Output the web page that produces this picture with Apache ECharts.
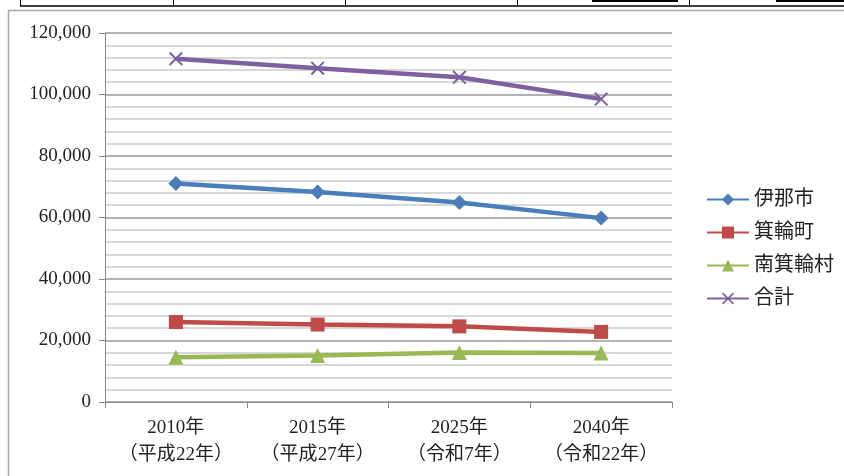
<!DOCTYPE html>
<html>
<head>
<meta charset="utf-8">
<script src="https://cdn.jsdelivr.net/npm/echarts@6/dist/echarts.min.js"></script>
<style>
  html, body { margin: 0; padding: 0; background: #fff; }
  #chart { width: 844px; height: 476px; }
</style>
</head>
<body>
<div id="chart"></div>
<script>
// Population projection by municipality (persons)
const categories = ['2010年\n（平成22年）', '2015年\n（平成27年）', '2025年\n（令和7年）', '2040年\n（令和22年）'];
const seriesNames = ['伊那市', '箕輪町', '南箕輪村', '合計'];
const inaCity = [71093, 68271, 64900, 59800];
const minowaTown = [25998, 25190, 24600, 22800];
const minamiminowaVillage = [14543, 15109, 16100, 15900];
const total = [111634, 108570, 105600, 98500];

const FONT = '"Liberation Serif", "Noto Sans CJK JP", serif';
const colors = ['#4a7ebb', '#be4b48', '#98b954', '#7d60a0'];
const crossPath = 'path://M0,1L1,0L10,9L9,10Z M9,0L10,1L1,10L0,9Z';

const chart = echarts.init(document.getElementById('chart'));

function lineSeries(name, data, color, symbol, size) {
  return {
    name: name,
    type: 'line',
    data: data,
    symbol: symbol,
    symbolSize: size,
    showAllSymbol: true,
    lineStyle: { color: color, width: 4.5 },
    itemStyle: { color: color },
    emphasis: { disabled: true },
    z: 3
  };
}

chart.setOption({
  animation: false,
  color: colors,
  grid: { left: 105, right: 172, top: 33, bottom: 74, containLabel: false },
  legend: {
    orient: 'vertical',
    left: 701,
    top: 184,
    itemWidth: 42,
    itemHeight: 15,
    itemGap: 12,
    textStyle: { fontFamily: FONT, fontSize: 20, lineHeight: 21, color: '#222' },
    data: seriesNames
  },
  xAxis: {
    type: 'category',
    data: categories,
    boundaryGap: true,
    axisLine: { lineStyle: { color: '#888', width: 1 } },
    axisTick: { show: true, length: 6, interval: 0, lineStyle: { color: '#888' } },
    axisLabel: { interval: 0, fontFamily: FONT, fontSize: 19, color: '#222', lineHeight: 27, margin: 13 },
    splitLine: { show: false }
  },
  yAxis: {
    type: 'value',
    min: 0,
    max: 120000,
    interval: 20000,
    axisLine: { show: true, lineStyle: { color: '#888', width: 1 } },
    axisTick: { show: true, length: 6, lineStyle: { color: '#888' } },
    axisLabel: {
      fontFamily: FONT, fontSize: 19, color: '#222', margin: 14,
      formatter: v => v.toLocaleString('en-US')
    },
    splitLine: { show: true, lineStyle: { color: '#9a9a9a', width: 1.5 } },
    minorTick: { show: false, splitNumber: 5 },
    minorSplitLine: { show: true, lineStyle: { color: '#cbcbcb', width: 1.5 } }
  },
  series: [
    lineSeries(seriesNames[0], inaCity, colors[0], 'diamond', 15),
    lineSeries(seriesNames[1], minowaTown, colors[1], 'rect', 14),
    lineSeries(seriesNames[2], minamiminowaVillage, colors[2], 'triangle', 15),
    lineSeries(seriesNames[3], total, colors[3], crossPath, 14)
  ],
  graphic: [
    // chart frame
    { type: 'rect', shape: { x: 8.5, y: 10.5, width: 900, height: 600 }, style: { fill: 'none', stroke: '#a6a6a6', lineWidth: 1.5 }, silent: true },
    // table rule above the chart
    { type: 'line', shape: { x1: 20, y1: 6, x2: 844, y2: 6 }, style: { stroke: '#000', lineWidth: 1.5 } },
    { type: 'line', shape: { x1: 20.5, y1: 0, x2: 20.5, y2: 6 }, style: { stroke: '#000', lineWidth: 1 } },
    { type: 'line', shape: { x1: 173.5, y1: 0, x2: 173.5, y2: 6 }, style: { stroke: '#000', lineWidth: 1 } },
    { type: 'line', shape: { x1: 345.5, y1: 0, x2: 345.5, y2: 6 }, style: { stroke: '#000', lineWidth: 1 } },
    { type: 'line', shape: { x1: 517.5, y1: 0, x2: 517.5, y2: 6 }, style: { stroke: '#000', lineWidth: 1 } },
    { type: 'line', shape: { x1: 689.5, y1: 0, x2: 689.5, y2: 6 }, style: { stroke: '#000', lineWidth: 1 } },
    { type: 'rect', shape: { x: 592, y: 0, width: 86, height: 2 }, style: { fill: '#000' } },
    { type: 'rect', shape: { x: 776, y: 0, width: 68, height: 2 }, style: { fill: '#000' } }
  ]
});
</script>
</body>
</html>
